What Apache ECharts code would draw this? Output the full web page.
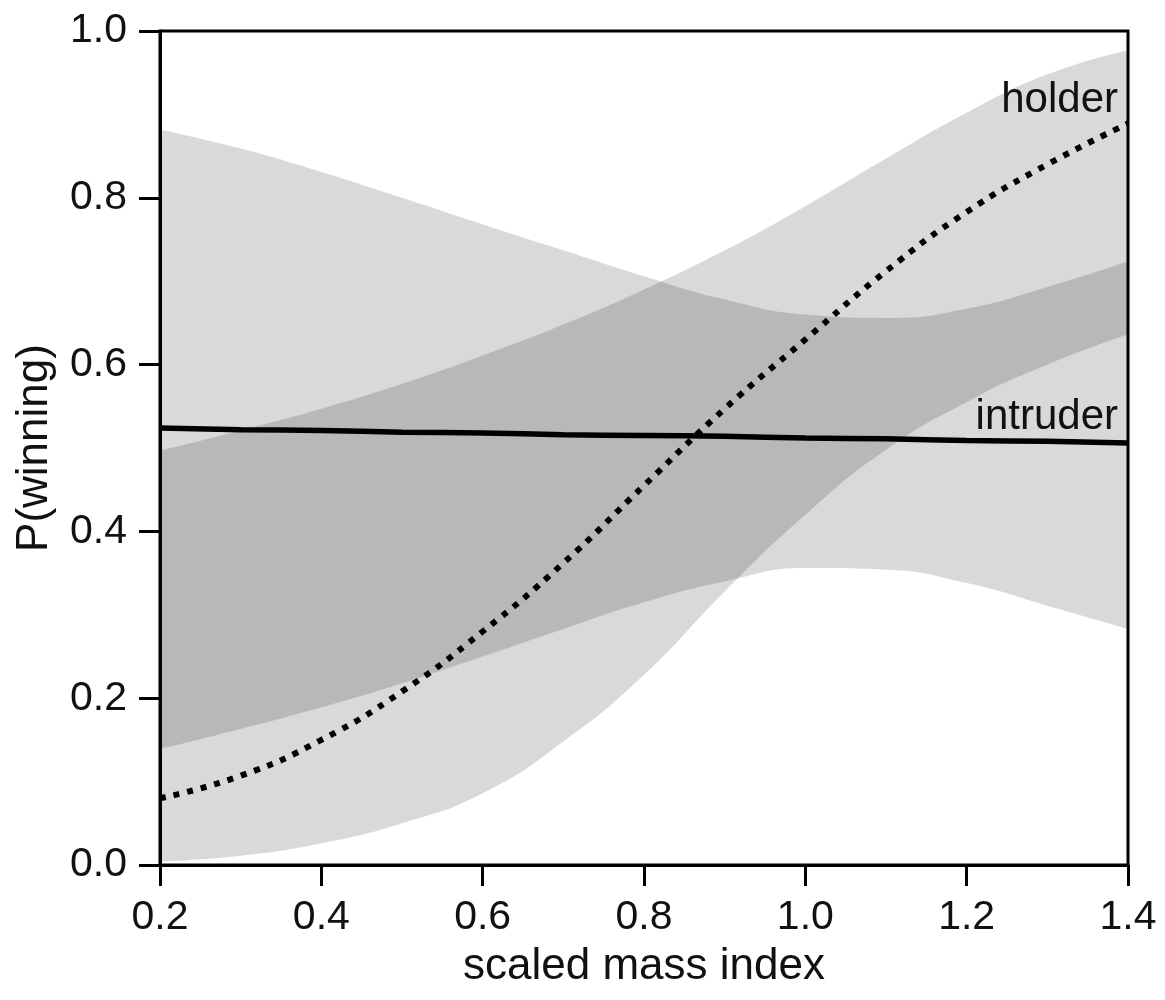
<!DOCTYPE html>
<html>
<head>
<meta charset="utf-8">
<script src="https://cdn.jsdelivr.net/npm/echarts@6/dist/echarts.min.js"></script>
<style>
  html, body { margin: 0; padding: 0; background: #fff; }
  #chart { width: 1165px; height: 1000px; }
</style>
</head>
<body>
<div id="chart"></div>
<script>
// Scaled mass index grid
const massIndex = [0.2, 0.3, 0.4, 0.5, 0.6, 0.7, 0.8, 0.9, 1.0, 1.1, 1.2, 1.3, 1.4];

// Territory holder: fitted probability and confidence band
const holderFit   = [0.080, 0.107, 0.150, 0.208, 0.280, 0.362, 0.455, 0.547, 0.630, 0.712, 0.783, 0.840, 0.889];
const holderLower = [0.004, 0.011, 0.026, 0.050, 0.086, 0.148, 0.228, 0.328, 0.420, 0.498, 0.555, 0.600, 0.636];
const holderUpper = [0.497, 0.521, 0.547, 0.577, 0.611, 0.648, 0.690, 0.737, 0.790, 0.847, 0.902, 0.948, 0.977];

// Intruder: fitted probability and confidence band
const intruderFit   = [0.524, 0.522, 0.521, 0.519, 0.518, 0.516, 0.515, 0.514, 0.512, 0.511, 0.509, 0.508, 0.506];
const intruderLower = [0.139, 0.163, 0.189, 0.218, 0.250, 0.283, 0.315, 0.340, 0.356, 0.354, 0.338, 0.311, 0.283];
const intruderUpper = [0.882, 0.859, 0.831, 0.800, 0.768, 0.737, 0.706, 0.678, 0.660, 0.656, 0.667, 0.693, 0.724];

// Tick labels
const xTicks = ['0.2', '0.4', '0.6', '0.8', '1.0', '1.2', '1.4'];
const yTicks = ['0.0', '0.2', '0.4', '0.6', '0.8', '1.0'];

const FONT = 'Liberation Sans, Arial, sans-serif';
const pairs = (ys) => massIndex.map((x, i) => [x, ys[i]]);
const widths = (lo, hi) => lo.map((v, i) => +(hi[i] - v).toFixed(4));

// Confidence bands are stacked areas (lower edge + band width) on a hidden
// category axis whose points line up with the value axis grid.
const bandBase = (stack, data) => ({
  type: 'line', xAxisIndex: 1, stack, data, smooth: true, symbol: 'none', silent: true,
  lineStyle: { width: 0, opacity: 0 }
});
const bandFill = (stack, data) => ({
  type: 'line', xAxisIndex: 1, stack, data, smooth: true, symbol: 'none', silent: true,
  lineStyle: { width: 0, opacity: 0 },
  areaStyle: { color: 'rgba(0,0,0,0.15)', opacity: 1 }
});

const chart = echarts.init(document.getElementById('chart'), null, { renderer: 'canvas' });
chart.setOption({
  animation: false,
  backgroundColor: '#fff',
  grid: {
    left: 160, right: 37, top: 31, bottom: 135,
    show: true, borderColor: '#000', borderWidth: 3, backgroundColor: 'transparent'
  },
  xAxis: [{
    type: 'value', min: 0.2, max: 1.4, interval: 0.2,
    name: 'scaled mass index', nameLocation: 'middle', nameGap: 80,
    nameTextStyle: { fontFamily: FONT, fontSize: 44, color: '#111' },
    axisLine: { show: true, onZero: false, lineStyle: { color: '#000', width: 3 } },
    axisTick: { show: true, inside: false, length: 21, lineStyle: { color: '#000', width: 3 } },
    axisLabel: {
      margin: 32, fontFamily: FONT, fontSize: 41, color: '#111',
      formatter: (v) => xTicks.find(t => Math.abs(parseFloat(t) - v) < 1e-6) || ''
    },
    splitLine: { show: false }
  }, {
    type: 'category', data: massIndex.map(String), boundaryGap: false, show: false
  }],
  yAxis: {
    type: 'value', min: 0, max: 1, interval: 0.2,
    name: 'P(winning)', nameLocation: 'middle', nameGap: 103, nameRotate: 90,
    nameTextStyle: { fontFamily: FONT, fontSize: 44, color: '#111' },
    axisLine: { show: true, onZero: false, lineStyle: { color: '#000', width: 3 } },
    axisTick: { show: true, inside: false, length: 21, lineStyle: { color: '#000', width: 3 } },
    axisLabel: {
      margin: 33, fontFamily: FONT, fontSize: 41, color: '#111',
      formatter: (v) => yTicks.find(t => Math.abs(parseFloat(t) - v) < 1e-6) || ''
    },
    splitLine: { show: false }
  },
  series: [
    bandBase('holderBand', holderLower),
    bandFill('holderBand', widths(holderLower, holderUpper)),
    bandBase('intruderBand', intruderLower),
    bandFill('intruderBand', widths(intruderLower, intruderUpper)),
    {
      name: 'intruder', type: 'line', data: pairs(intruderFit), smooth: true,
      symbol: 'none', lineStyle: { color: '#000', width: 5.5 }, z: 5
    },
    {
      name: 'holder', type: 'line', data: pairs(holderFit), smooth: true,
      symbol: 'none', lineStyle: { color: '#000', width: 6, type: [6, 8], cap: 'butt' }, z: 6
    }
  ],
  graphic: [
    { type: 'text', x: 1118, y: 100, z: 10,
      style: { text: 'holder', font: '42px ' + FONT, fill: '#111', align: 'right', verticalAlign: 'middle' } },
    { type: 'text', x: 1118, y: 417, z: 10,
      style: { text: 'intruder', font: '42px ' + FONT, fill: '#111', align: 'right', verticalAlign: 'middle' } }
  ]
});
</script>
</body>
</html>
